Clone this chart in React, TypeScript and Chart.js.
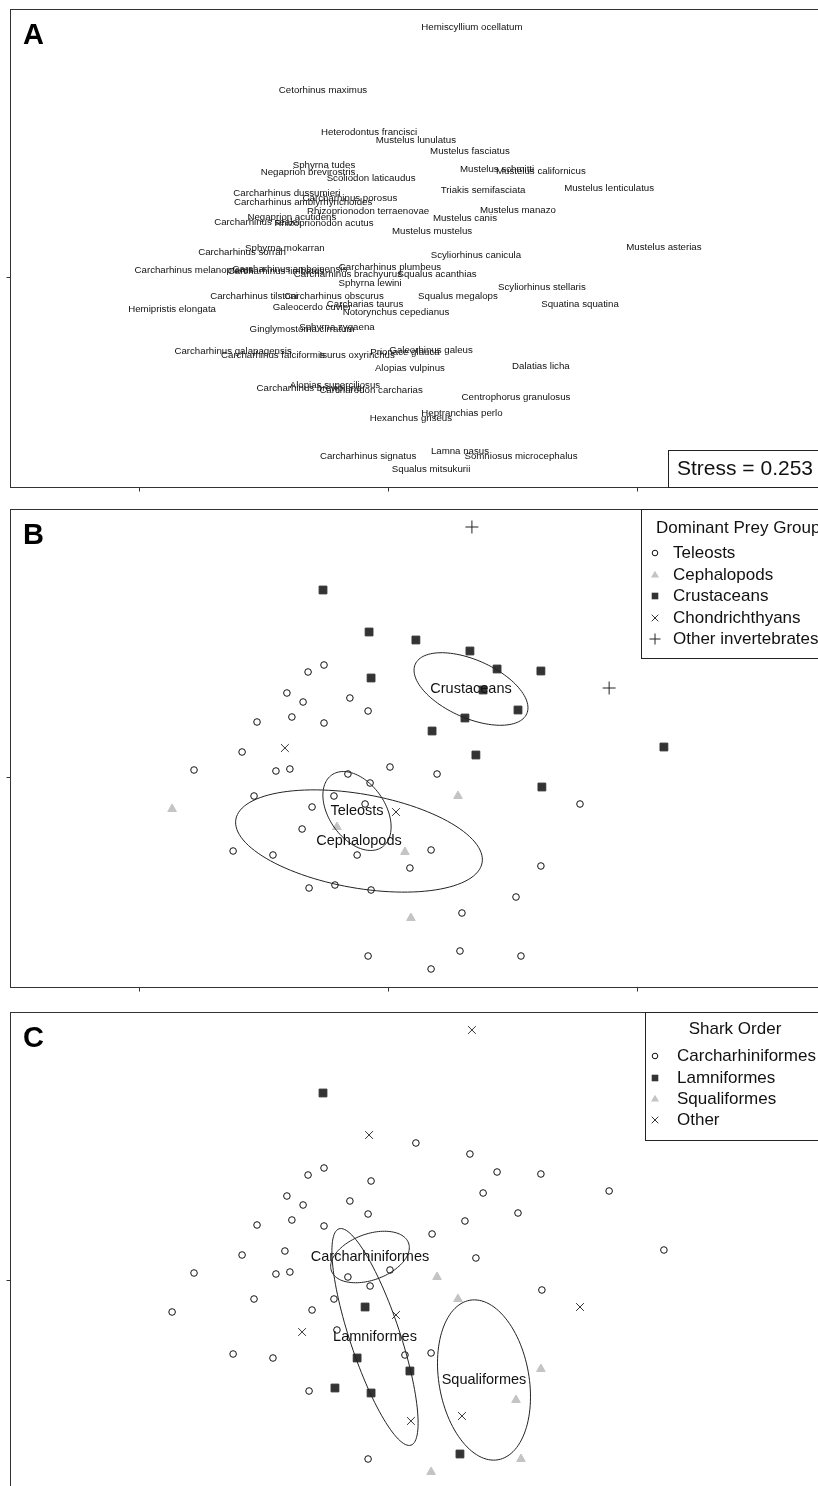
import React, { useEffect, useRef } from 'react';
import { Chart, registerables } from 'chart.js';
Chart.register(...registerables);

// ---- Data (NMDS coordinates) ----
const speciesNames = [
  'Hemiscyllium ocellatum', 'Cetorhinus maximus', 'Heterodontus francisci', 'Mustelus lunulatus', 'Mustelus fasciatus',
  'Sphyrna tudes', 'Negaprion brevirostris', 'Scoliodon laticaudus', 'Mustelus schmitti', 'Mustelus californicus',
  'Mustelus lenticulatus', 'Triakis semifasciata', 'Carcharhinus dussumieri', 'Carcharhinus amblyrhynchoides', 'Carcharhinus porosus',
  'Rhizoprionodon terraenovae', 'Mustelus manazo', 'Negaprion acutidens', 'Carcharhinus sealei', 'Mustelus canis',
  'Rhizoprionodon acutus', 'Mustelus mustelus', 'Carcharhinus sorrah', 'Sphyrna mokarran', 'Scyliorhinus canicula',
  'Mustelus asterias', 'Carcharhinus melanopterus', 'Carcharhinus limbatus', 'Carcharhinus amboinensis', 'Carcharhinus brachyurus',
  'Carcharhinus plumbeus', 'Squalus acanthias', 'Sphyrna lewini', 'Scyliorhinus stellaris', 'Carcharhinus tilstoni',
  'Carcharhinus obscurus', 'Squalus megalops', 'Hemipristis elongata', 'Galeocerdo cuvier', 'Carcharias taurus',
  'Notorynchus cepedianus', 'Squatina squatina', 'Ginglymostoma cirratum', 'Sphyrna zygaena', 'Carcharhinus galapagensis',
  'Carcharhinus falciformis', 'Isurus oxyrinchus', 'Prionace glauca', 'Galeorhinus galeus', 'Alopias vulpinus',
  'Dalatias licha', 'Alopias superciliosus', 'Carcharhinus brevipinna', 'Carcharodon carcharias', 'Centrophorus granulosus',
  'Hexanchus griseus', 'Heptranchias perlo', 'Carcharhinus signatus', 'Lamna nasus', 'Somniosus microcephalus',
  'Squalus mitsukurii',
];
const nmds1 = [
  0.337, -0.261, -0.076, 0.112, 0.329,
  -0.257, -0.321, -0.068, 0.438, 0.614,
  0.888, 0.382, -0.406, -0.341, -0.153,
  -0.080, 0.522, -0.386, -0.526, 0.309,
  -0.257, 0.177, -0.586, -0.414, 0.353,
  1.108, -0.779, -0.450, -0.394, -0.161,
  0.008, 0.197, -0.072, 0.618, -0.538,
  -0.217, 0.281, -0.867, -0.305, -0.092,
  0.032, 0.771, -0.345, -0.205, -0.622,
  -0.462, -0.124, 0.068, 0.173, 0.088,
  0.614, -0.213, -0.317, -0.068, 0.514,
  0.092, 0.297, -0.080, 0.289, 0.534,
  0.173,
];
const nmds2 = [
  0.625, 0.4675, 0.3625, 0.3425, 0.315,
  0.28, 0.2625, 0.2475, 0.27, 0.265,
  0.2225, 0.2175, 0.21, 0.1875, 0.1975,
  0.165, 0.1675, 0.15, 0.1375, 0.1475,
  0.135, 0.115, 0.0625, 0.0725, 0.055,
  0.075, 0.0175, 0.015, 0.02, 0.0075,
  0.025, 0.0075, -0.015, -0.025, -0.0475,
  -0.0475, -0.0475, -0.08, -0.075, -0.0675,
  -0.0875, -0.0675, -0.13, -0.125, -0.185,
  -0.195, -0.195, -0.1875, -0.1825, -0.2275,
  -0.2225, -0.27, -0.2775, -0.2825, -0.3,
  -0.3525, -0.34, -0.4475, -0.435, -0.4475,
  -0.48,
];
// T = Teleosts, P = Cephalopods, R = Crustaceans, X = Chondrichthyans, I = Other invertebrates
const preyCode = [
  'I', 'R', 'R', 'R', 'R', 'T', 'T', 'R', 'R', 'R',
  'I', 'R', 'T', 'T', 'T', 'T', 'R', 'T', 'T', 'R',
  'T', 'R', 'T', 'X', 'R', 'R', 'T', 'T', 'T', 'T',
  'T', 'T', 'T', 'R', 'T', 'T', 'P', 'P', 'T', 'T',
  'X', 'T', 'T', 'P', 'T', 'T', 'T', 'P', 'T', 'T',
  'T', 'T', 'T', 'T', 'T', 'P', 'T', 'T', 'T', 'T',
  'T',
];
// C = Carcharhiniformes, L = Lamniformes, S = Squaliformes, O = Other
const orderCode = [
  'O', 'L', 'O', 'C', 'C', 'C', 'C', 'C', 'C', 'C',
  'C', 'C', 'C', 'C', 'C', 'C', 'C', 'C', 'C', 'C',
  'C', 'C', 'C', 'C', 'C', 'C', 'C', 'C', 'C', 'C',
  'C', 'S', 'C', 'C', 'C', 'C', 'S', 'C', 'C', 'L',
  'O', 'O', 'O', 'C', 'C', 'C', 'L', 'C', 'C', 'L',
  'S', 'L', 'C', 'L', 'S', 'O', 'O', 'C', 'L', 'S',
  'S',
];

const preyKeys = ['T', 'P', 'R', 'X', 'I'];
const preyLabels = ['Teleosts', 'Cephalopods', 'Crustaceans', 'Chondrichthyans', 'Other invertebrates'];
const orderKeys = ['C', 'L', 'S', 'O'];
const orderLabels = ['Carcharhiniformes', 'Lamniformes', 'Squaliformes', 'Other'];

// Ellipses: centre and conjugate semi-axis vectors (NMDS units)
const preyEllipseNames = ['Crustaceans', 'Teleosts', 'Cephalopods'];
const preyEllipseCx = [0.3333, -0.1245, -0.1165];
const preyEllipseCy = [0.22, -0.085, -0.16];
const preyEllipseU = [[0.2238, -0.062], [0.1014, -0.0901], [0.4944, -0.0543]];
const preyEllipseV = [[-0.0474, -0.0662], [-0.0921, -0.0402], [-0.0328, -0.1157]];

const orderEllipseNames = ['Carcharhiniformes', 'Lamniformes', 'Squaliformes'];
const orderEllipseCx = [-0.0723, -0.0522, 0.3855];
const orderEllipseCy = [0.0575, -0.1425, -0.25];
const orderEllipseU = [[0.1547, 0.0351], [0.1445, -0.2704], [0.0565, -0.1994]];
const orderEllipseV = [[0.0316, -0.054], [-0.0953, -0.0197], [-0.178, -0.0195]];

const X_MIN = -1.518, X_MAX = 1.775, Y_MIN = -0.525, Y_MAX = 0.67;
const FONT = '"Liberation Sans", Arial, Helvetica, sans-serif';
const INK = '#111';

type MarkerStyle = { shape: string; r: number; fill: string; stroke: string };
const preyStyles: Record<string, MarkerStyle> = {
  T: { shape: 'circle', r: 3.3, fill: '#fff', stroke: '#111' },
  P: { shape: 'triangle', r: 5, fill: '#c4c4c4', stroke: '#c4c4c4' },
  R: { shape: 'rect', r: 5.5, fill: '#333', stroke: '#333' },
  X: { shape: 'crossRot', r: 5.5, fill: '#333', stroke: '#333' },
  I: { shape: 'cross', r: 6.5, fill: '#222', stroke: '#222' },
};
const orderStyles: Record<string, MarkerStyle> = {
  C: preyStyles.T,
  L: preyStyles.R,
  S: preyStyles.P,
  O: preyStyles.X,
};

function drawMarker(ctx: CanvasRenderingContext2D, st: MarkerStyle, x: number, y: number, scale = 1) {
  const r = st.r * scale;
  ctx.save();
  ctx.lineWidth = 1;
  ctx.strokeStyle = st.stroke;
  ctx.fillStyle = st.fill;
  ctx.beginPath();
  if (st.shape === 'circle') {
    ctx.arc(x, y, r, 0, Math.PI * 2);
    ctx.fill();
    ctx.stroke();
  } else if (st.shape === 'triangle') {
    const h = r * 1.5;
    ctx.moveTo(x, y - r);
    ctx.lineTo(x + r * 0.95, y + r * 0.6);
    ctx.lineTo(x - r * 0.95, y + r * 0.6);
    ctx.closePath();
    ctx.fill();
    void h;
  } else if (st.shape === 'rect') {
    const s = r / Math.SQRT2;
    ctx.rect(x - s, y - s, 2 * s, 2 * s);
    ctx.fill();
  } else if (st.shape === 'crossRot') {
    const o = r * Math.SQRT1_2;
    ctx.moveTo(x - o, y - o); ctx.lineTo(x + o, y + o);
    ctx.moveTo(x - o, y + o); ctx.lineTo(x + o, y - o);
    ctx.stroke();
  } else if (st.shape === 'cross') {
    ctx.moveTo(x - r, y); ctx.lineTo(x + r, y);
    ctx.moveTo(x, y - r); ctx.lineTo(x, y + r);
    ctx.stroke();
  }
  ctx.restore();
}

type PanelKind = 'A' | 'B' | 'C';

function buildDatasets(kind: PanelKind): any[] {
  if (kind === 'A') {
    return [{
      label: 'species',
      data: nmds1.map((x, i) => ({ x, y: nmds2[i] })),
      pointRadius: 0,
      pointHoverRadius: 0,
    }];
  }
  const keys = kind === 'B' ? preyKeys : orderKeys;
  const codes = kind === 'B' ? preyCode : orderCode;
  const styles = kind === 'B' ? preyStyles : orderStyles;
  const labels = kind === 'B' ? preyLabels : orderLabels;
  return keys.map((k, gi) => {
    const st = styles[k];
    const data: { x: number; y: number }[] = [];
    codes.forEach((c, i) => { if (c === k) data.push({ x: nmds1[i], y: nmds2[i] }); });
    return {
      label: labels[gi],
      data,
      pointStyle: st.shape,
      pointRadius: st.r,
      pointHoverRadius: st.r,
      pointBackgroundColor: st.fill,
      pointBorderColor: st.stroke,
      pointBorderWidth: 1,
    };
  });
}

function makePlugin(kind: PanelKind) {
  return {
    id: 'panelDecor' + kind,
    afterDatasetsDraw(chart: any) {
      const ctx: CanvasRenderingContext2D = chart.ctx;
      const ca = chart.chartArea;
      const xs = chart.scales.x;
      const ys = chart.scales.y;
      ctx.save();

      // species labels
      if (kind === 'A') {
        const meta = chart.getDatasetMeta(0);
        ctx.font = `9.7px ${FONT}`;
        ctx.fillStyle = INK;
        ctx.textAlign = 'center';
        ctx.textBaseline = 'middle';
        meta.data.forEach((pt: any, i: number) => {
          ctx.fillText(speciesNames[i], pt.x, pt.y);
        });
      }

      // ellipses
      if (kind !== 'A') {
        const names = kind === 'B' ? preyEllipseNames : orderEllipseNames;
        const cxs = kind === 'B' ? preyEllipseCx : orderEllipseCx;
        const cys = kind === 'B' ? preyEllipseCy : orderEllipseCy;
        const us = kind === 'B' ? preyEllipseU : orderEllipseU;
        const vs = kind === 'B' ? preyEllipseV : orderEllipseV;
        ctx.strokeStyle = '#222';
        ctx.lineWidth = 1;
        names.forEach((_n, e) => {
          ctx.beginPath();
          for (let s = 0; s <= 120; s++) {
            const t = (s / 120) * Math.PI * 2;
            const dx = cxs[e] + us[e][0] * Math.cos(t) + vs[e][0] * Math.sin(t);
            const dy = cys[e] + us[e][1] * Math.cos(t) + vs[e][1] * Math.sin(t);
            const px = xs.getPixelForValue(dx);
            const py = ys.getPixelForValue(dy);
            if (s === 0) ctx.moveTo(px, py); else ctx.lineTo(px, py);
          }
          ctx.closePath();
          ctx.stroke();
        });
        ctx.font = `14.5px ${FONT}`;
        ctx.fillStyle = INK;
        ctx.textAlign = 'center';
        ctx.textBaseline = 'middle';
        names.forEach((n, e) => {
          ctx.fillText(n, xs.getPixelForValue(cxs[e]), ys.getPixelForValue(cys[e]));
        });
      }

      // frame
      ctx.strokeStyle = '#333';
      ctx.lineWidth = 1;
      ctx.strokeRect(Math.round(ca.left) + 0.5, Math.round(ca.top) + 0.5, Math.round(ca.right - ca.left), Math.round(ca.bottom - ca.top));

      // ticks
      ctx.beginPath();
      for (let v = Math.ceil(X_MIN); v <= Math.floor(X_MAX); v++) {
        const px = Math.round(xs.getPixelForValue(v)) + 0.5;
        ctx.moveTo(px, Math.round(ca.bottom) + 0.5);
        ctx.lineTo(px, Math.round(ca.bottom) + 4.5);
      }
      for (let v = Math.ceil(Y_MIN); v <= Math.floor(Y_MAX); v++) {
        const py = Math.round(ys.getPixelForValue(v)) + 0.5;
        ctx.moveTo(Math.round(ca.left) + 0.5, py);
        ctx.lineTo(Math.round(ca.left) - 3.5, py);
      }
      ctx.stroke();

      // panel letter
      ctx.font = `bold 29px ${FONT}`;
      ctx.fillStyle = '#000';
      ctx.textAlign = 'left';
      ctx.textBaseline = 'alphabetic';
      ctx.fillText(kind, ca.left + 13, ca.top + 35);

      // stress box / legends
      if (kind === 'A') {
        ctx.fillStyle = '#fff';
        ctx.fillRect(668.5, 450.5, 400, Math.round(ca.bottom) - 450);
        ctx.strokeStyle = '#222';
        ctx.strokeRect(668.5, 450.5, 400, Math.round(ca.bottom) - 450);
        ctx.fillStyle = INK;
        ctx.font = `21px ${FONT}`;
        ctx.textBaseline = 'middle';
        ctx.fillText('Stress = 0.253', 677, 469);
      } else if (kind === 'B') {
        const top = Math.round(ca.top) + 0.5;
        ctx.fillStyle = '#fff';
        ctx.fillRect(641.5, top, 400, 149);
        ctx.strokeStyle = '#222';
        ctx.strokeRect(641.5, top, 400, 149);
        ctx.fillStyle = INK;
        ctx.font = `17px ${FONT}`;
        ctx.textBaseline = 'middle';
        ctx.textAlign = 'left';
        ctx.fillText('Dominant Prey Group', 656, 28);
        const rows = [53, 75, 96, 118, 139];
        preyKeys.forEach((k, i) => {
          drawMarker(ctx, preyStyles[k], 655, rows[i], 0.85);
          ctx.fillStyle = INK;
          ctx.fillText(preyLabels[i], 673, rows[i]);
        });
      } else {
        const top = Math.round(ca.top) + 0.5;
        ctx.fillStyle = '#fff';
        ctx.fillRect(645.5, top, 400, 128);
        ctx.strokeStyle = '#222';
        ctx.strokeRect(645.5, top, 400, 128);
        ctx.fillStyle = INK;
        ctx.font = `17px ${FONT}`;
        ctx.textBaseline = 'middle';
        ctx.textAlign = 'center';
        ctx.fillText('Shark Order', 735, 26);
        ctx.textAlign = 'left';
        const rows = [53, 75, 96, 117];
        orderKeys.forEach((k, i) => {
          drawMarker(ctx, orderStyles[k], 655, rows[i], 0.85);
          ctx.fillStyle = INK;
          ctx.fillText(orderLabels[i], 677, rows[i]);
        });
      }
      ctx.restore();
    },
  };
}

function Panel({ kind, top }: { kind: PanelKind; top: number }) {
  const ref = useRef<HTMLCanvasElement | null>(null);
  useEffect(() => {
    if (!ref.current) return;
    const chart = new Chart(ref.current, {
      type: 'scatter',
      data: { datasets: buildDatasets(kind) },
      options: {
        animation: false,
        responsive: false,
        devicePixelRatio: 1,
        layout: { padding: { left: 10, top: 9, right: 10, bottom: 8 } },
        plugins: { legend: { display: false }, tooltip: { enabled: false } },
        events: [],
        scales: {
          x: { type: 'linear', min: X_MIN, max: X_MAX, display: false },
          y: { type: 'linear', min: Y_MIN, max: Y_MAX, display: false },
        },
      },
      plugins: [makePlugin(kind)],
    } as any);
    return () => chart.destroy();
  }, [kind]);
  return (
    <canvas
      ref={ref}
      width={840}
      height={495}
      style={{ position: 'absolute', left: 0, top, width: 840, height: 495 }}
    />
  );
}

export default function App() {
  return (
    <div style={{ position: 'absolute', left: 0, top: 0, width: 818, height: 1486, overflow: 'hidden', background: '#fff' }}>
      <Panel kind="A" top={0} />
      <Panel kind="B" top={500} />
      <Panel kind="C" top={1003} />
    </div>
  );
}
